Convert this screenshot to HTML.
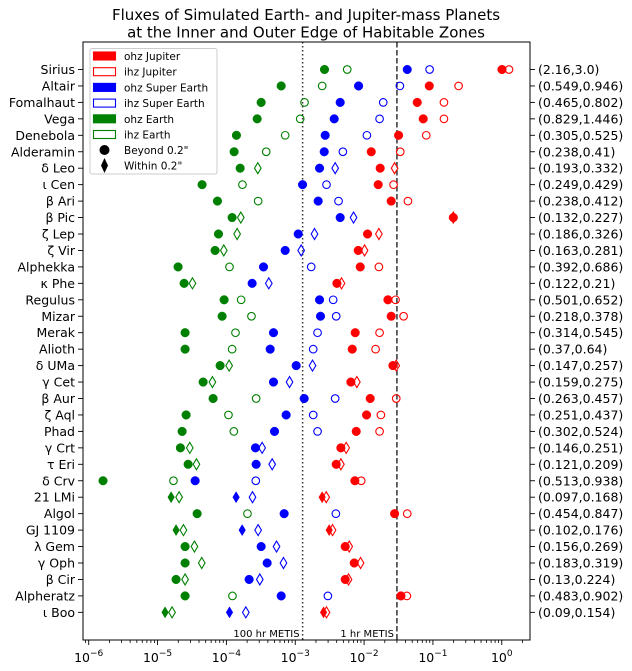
<!DOCTYPE html>
<html><head><meta charset="utf-8"><style>
html,body{margin:0;padding:0;background:#fff;}
svg{display:block;font-family:"DejaVu Sans","Liberation Sans",sans-serif;}
</style></head><body>
<svg id="chart" width="632" height="671" viewBox="0 0 632 671" xmlns="http://www.w3.org/2000/svg"></svg>
<script>
// ---- data ----
const stars = ["Sirius","Altair","Fomalhaut","Vega","Denebola","Alderamin","δ Leo","ι Cen","β Ari","β Pic","ζ Lep","ζ Vir","Alphekka","κ Phe","Regulus","Mizar","Merak","Alioth","δ UMa","γ Cet","β Aur","ζ Aql","Phad","γ Crt","τ Eri","δ Crv","21 LMi","Algol","GJ 1109","λ Gem","γ Oph","β Cir","Alpheratz","ι Boo"];
const ihzAngle = [2.16,0.549,0.465,0.829,0.305,0.238,0.193,0.249,0.238,0.132,0.186,0.163,0.392,0.122,0.501,0.218,0.314,0.37,0.147,0.159,0.263,0.251,0.302,0.146,0.121,0.513,0.097,0.454,0.102,0.156,0.183,0.13,0.483,0.09];
const ohzAngle = [3.0,0.946,0.802,1.446,0.525,0.41,0.332,0.429,0.412,0.227,0.326,0.281,0.686,0.21,0.652,0.378,0.545,0.64,0.257,0.275,0.457,0.437,0.524,0.251,0.209,0.938,0.168,0.847,0.176,0.269,0.319,0.224,0.902,0.154];
const angleText = ["(2.16,3.0)","(0.549,0.946)","(0.465,0.802)","(0.829,1.446)","(0.305,0.525)","(0.238,0.41)","(0.193,0.332)","(0.249,0.429)","(0.238,0.412)","(0.132,0.227)","(0.186,0.326)","(0.163,0.281)","(0.392,0.686)","(0.122,0.21)","(0.501,0.652)","(0.218,0.378)","(0.314,0.545)","(0.37,0.64)","(0.147,0.257)","(0.159,0.275)","(0.263,0.457)","(0.251,0.437)","(0.302,0.524)","(0.146,0.251)","(0.121,0.209)","(0.513,0.938)","(0.097,0.168)","(0.454,0.847)","(0.102,0.176)","(0.156,0.269)","(0.183,0.319)","(0.13,0.224)","(0.483,0.902)","(0.09,0.154)"];
// log10 of flux values
const ohzJupiterLog = [0.003,-1.053,-1.228,-1.141,-1.499,-1.896,-1.766,-1.795,-1.606,-0.704,-1.950,-2.085,-2.056,-2.395,-1.654,-1.606,-2.129,-2.172,-1.581,-2.192,-1.911,-1.964,-2.114,-2.337,-2.405,-2.134,-2.609,-1.557,-2.507,-2.274,-2.143,-2.274,-1.465,-2.589];
const ihzJupiterLog = [0.105,-0.627,-0.840,-0.840,-1.097,-1.475,-1.557,-1.572,-1.363,-0.704,-1.785,-1.993,-1.785,-2.328,-1.543,-1.426,-1.775,-1.833,-1.533,-2.105,-1.533,-1.756,-1.775,-2.260,-2.337,-2.042,-2.550,-1.373,-2.458,-2.216,-2.051,-2.226,-1.378,-2.546];
const ohzSuperLog = [-1.373,-2.080,-2.347,-2.434,-2.565,-2.579,-2.647,-2.894,-2.667,-2.347,-2.957,-3.146,-3.461,-3.626,-2.647,-2.633,-3.316,-3.364,-2.986,-3.316,-2.870,-3.132,-3.301,-3.578,-3.568,-4.454,-3.859,-3.161,-3.771,-3.495,-3.408,-3.670,-3.204,-3.955];
const ihzSuperLog = [-1.048,-1.480,-1.722,-1.775,-1.959,-2.308,-2.420,-2.546,-2.371,-2.153,-2.720,-2.914,-2.768,-3.384,-2.449,-2.405,-2.676,-2.739,-2.749,-3.083,-2.420,-2.739,-2.676,-3.481,-3.335,-3.573,-3.621,-2.410,-3.539,-3.272,-3.171,-3.515,-2.526,-3.718];
const ohzEarthLog = [-2.575,-3.204,-3.495,-3.553,-3.854,-3.888,-3.800,-4.353,-4.130,-3.917,-4.115,-4.164,-4.702,-4.614,-4.033,-4.062,-4.600,-4.600,-4.091,-4.338,-4.193,-4.585,-4.643,-4.668,-4.556,-5.792,-4.803,-4.425,-4.731,-4.600,-4.600,-4.731,-4.600,-4.891];
const ihzEarthLog = [-2.245,-2.609,-2.865,-2.928,-3.146,-3.422,-3.544,-3.767,-3.539,-3.791,-3.844,-4.038,-3.955,-4.493,-3.786,-3.636,-3.868,-3.917,-3.960,-4.203,-3.568,-3.970,-3.892,-4.532,-4.435,-4.769,-4.687,-3.694,-4.624,-4.464,-4.358,-4.600,-3.912,-4.789];
const xTickExp = [-6,-5,-4,-3,-2,-1,0];
const metis100hr = 1.28e-3, metis1hr = 0.03;

// ---- layout ----
const L=83,R=530,T=42,B=640;
const xmin=-6.083,xmax=0.41;
const X=lg=>L+(lg-xmin)/(xmax-xmin)*(R-L);
const Y=i=>69.5+i*16.45;
const svg=document.getElementById('chart');
const NS="http://www.w3.org/2000/svg";
function mk(tag,attrs,parent){const e=document.createElementNS(NS,tag);for(const k in attrs)e.setAttribute(k,attrs[k]);(parent||svg).appendChild(e);return e;}

// title
const title=mk('text',{x:306,y:20,'text-anchor':'middle','font-size':15,fill:'#000'});


title.innerHTML='<tspan x="306" y="20">Fluxes of Simulated Earth- and Jupiter-mass Planets</tspan><tspan x="306" y="37.5">at the Inner and Outer Edge of Habitable Zones</tspan>';

// reference lines
const l1=mk('line',{x1:X(Math.log10(metis100hr)),x2:X(Math.log10(metis100hr)),y1:T,y2:B,stroke:'#333','stroke-width':1.5,'stroke-dasharray':'1.5,2.5'});


const l2=mk('line',{x1:X(Math.log10(metis1hr)),x2:X(Math.log10(metis1hr)),y1:T,y2:B,stroke:'#333','stroke-width':1.5,'stroke-dasharray':'5.5,2.5'});


const t1=mk('text',{x:X(Math.log10(metis100hr))-3,y:637,'text-anchor':'end','font-size':10});
t1.textContent='100 hr METIS';


const t2=mk('text',{x:X(Math.log10(metis1hr))-3,y:637,'text-anchor':'end','font-size':10});
t2.textContent='1 hr METIS';



// x ticks
for(let e=-7;e<=0;e++){for(let k=2;k<=9;k++){const lg=e+Math.log10(k);if(lg<xmin||lg>xmax)continue;const x=X(lg);mk('line',{x1:x,x2:x,y1:B,y2:B+3,stroke:'#000','stroke-width':0.8});}}
xTickExp.forEach(e=>{const x=X(e);mk('line',{x1:x,x2:x,y1:B,y2:B+5,stroke:'#000','stroke-width':0.9});
 const t=mk('text',{x:x,y:B+22,'text-anchor':'middle','font-size':12.5});
 
 
 t.innerHTML='10<tspan font-size="9" dy="-6">'+(e<0?'−'+(-e):e)+'</tspan>';});

// y labels & ticks
stars.forEach((s,i)=>{const y=Y(i);
 mk('line',{x1:L-5,x2:L,y1:y,y2:y,stroke:'#000','stroke-width':0.9});
 mk('line',{x1:R,x2:R+5,y1:y,y2:y,stroke:'#000','stroke-width':0.9});
 const t=mk('text',{x:L-8,y:y+4.5,'text-anchor':'end','font-size':12.5});t.textContent=s;
 
 
 const a=mk('text',{x:R+8,y:y+4.5,'font-size':12.5});a.textContent=angleText[i];
 
 
});

// markers
function marker(x,y,filled,color,diamond,name){let e;
 if(diamond){e=mk('path',{d:`M${x},${y-5.5} L${x+3.3},${y} L${x},${y+5.5} L${x-3.3},${y} Z`});}
 else{e=mk('circle',{cx:x,cy:y,r:filled?4.3:3.8});}
 e.setAttribute('fill',filled?color:'none');e.setAttribute('stroke',color);e.setAttribute('stroke-width',filled?0.5:1.1);
 
 
 return e;}
const series=[
 [ohzEarthLog,true,'#008000','ohz',"ohz-earth-point"],
 [ihzEarthLog,false,'#008000','ihz',"ihz-earth-point"],
 [ohzSuperLog,true,'#0000ff','ohz',"ohz-super-earth-point"],
 [ihzSuperLog,false,'#0000ff','ihz',"ihz-super-earth-point"],
 [ohzJupiterLog,true,'#ff0000','ohz',"ohz-jupiter-point"],
 [ihzJupiterLog,false,'#ff0000','ihz',"ihz-jupiter-point"]];
series.forEach(([arr,filled,col,zone,name])=>{arr.forEach((v,i)=>{const ang=zone==='ohz'?ohzAngle[i]:ihzAngle[i];marker(X(v),Y(i),filled,col,ang<0.2,name);});});

// frame
const fr=mk('rect',{x:L,y:T,width:R-L,height:B-T,fill:'none',stroke:'#000','stroke-width':1});



// legend
const lg=mk('g',{});


mk('rect',{x:90,y:48.5,width:127,height:125.5,rx:2,fill:'#fff','fill-opacity':0.85,stroke:'#ccc','stroke-width':1},lg);
const items=[['ohz Jupiter','#ff0000',true],['ihz Jupiter','#ff0000',false],['ohz Super Earth','#0000ff',true],['ihz Super Earth','#0000ff',false],['ohz Earth','#008000',true],['ihz Earth','#008000',false]];
items.forEach((it,k)=>{const y=56+k*15.7;
 const r=mk('rect',{x:93.5,y:y-4,width:22,height:8,fill:it[2]?it[1]:'none',stroke:it[1],'stroke-width':1.1},lg);
 
 
 const t=mk('text',{x:124,y:y+4,'font-size':10.5},lg);t.textContent=it[0];
 
 });
mk('circle',{cx:104.5,cy:150,r:5,fill:'#000'},lg);
const bt=mk('text',{x:124,y:154,'font-size':10.5},lg);bt.textContent='Beyond 0.2"';


mk('path',{d:'M104.5,158 L108,165.5 L104.5,173 L101,165.5 Z',fill:'#000'},lg);
const wt=mk('text',{x:124,y:169.5,'font-size':10.5},lg);wt.textContent='Within 0.2"';


</script>
</body></html>
